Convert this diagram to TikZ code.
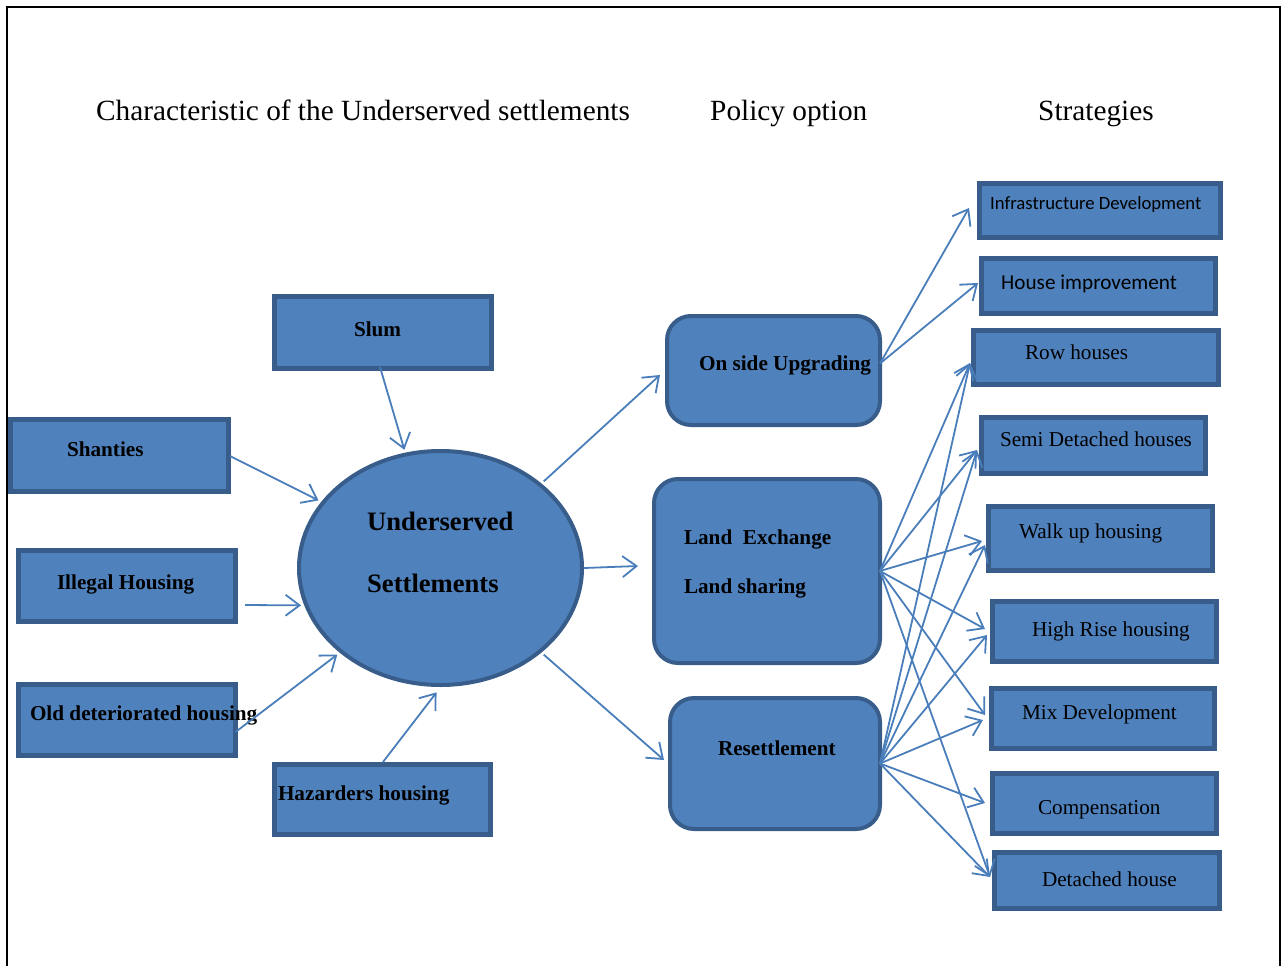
\documentclass[tikz,border=0pt]{standalone}
\usepackage{fontspec}
\setmainfont{Liberation Serif}
\newfontfamily\calib{Carlito}
\usetikzlibrary{arrows.meta,shapes.geometric}
\definecolor{fillb}{HTML}{4F81BD}
\definecolor{edgeb}{HTML}{385D8A}
\definecolor{arrb}{HTML}{4A7EBB}
\begin{document}
\begin{tikzpicture}[x=1pt,y=-1pt,
  sbox/.style={draw=edgeb,fill=fillb,line width=5pt,inner sep=0pt,outer sep=0pt},
  rbox/.style={draw=edgeb,fill=fillb,line width=4pt,rounded corners=24pt,inner sep=0pt,outer sep=0pt},
  ell/.style={ellipse,draw=edgeb,fill=fillb,line width=4pt,inner sep=0pt,outer sep=5pt},
  txt/.style={anchor=base west,inner sep=0pt,outer sep=0pt,font=\fontsize{21.2}{25}\selectfont},
  btxt/.style={txt,font=\fontsize{21.2}{25}\selectfont\bfseries},
  htxt/.style={anchor=base west,inner sep=0pt,font=\fontsize{29.3}{34}\selectfont},
  etxt/.style={anchor=base west,inner sep=0pt,font=\fontsize{26.6}{30}\selectfont\bfseries},
  arr/.style={draw=arrb,line width=1.8pt,-{Straight Barb[length=14pt,width=21pt,line width=1.8pt]}}]
\useasboundingbox (0,0) rectangle (1282,966);
\draw[line width=2pt] (7,966) -- (7,7) -- (1280,7) -- (1280,966);

% headers
\node[htxt] (h1) at (96,120.5) {Characteristic of the Underserved settlements};
\node[htxt] (h2) at (710,120.5) {Policy option};
\node[htxt] (h3) at (1038,120.5) {Strategies};

% left boxes
\node[sbox,minimum width=217pt,minimum height=72pt] (slum) at (383,332.5) {};
\node[sbox,minimum width=218pt,minimum height=72pt] (shan) at (119.5,455.5) {};
\node[sbox,minimum width=217pt,minimum height=71pt] (ill) at (127,586) {};
\node[sbox,minimum width=217pt,minimum height=71pt] (old) at (127,720) {};
\node[sbox,minimum width=216pt,minimum height=70pt] (haz) at (382.5,799.5) {};
\node[btxt] (tslum) at (354,336) {Slum};
\node[btxt] (tshan) at (67,456) {Shanties};
\node[btxt] (till) at (57,589) {Illegal Housing};
\node[btxt] (told) at (30,720) {Old deteriorated housing};
\node[btxt] (thaz) at (278,800) {Hazarders housing};

% ellipse
\node[ell,minimum width=283pt,minimum height=234pt] (ell) at (440.5,568) {};
\node[etxt] (te1) at (367,530) {Underserved};
\node[etxt] (te2) at (367,592) {Settlements};

% policy boxes
\node[rbox,minimum width=213pt,minimum height=109pt] (up) at (773.5,370.5) {};
\node[rbox,minimum width=226pt,minimum height=184pt] (le) at (767,571) {};
\node[rbox,minimum width=210pt,minimum height=131pt] (res) at (775,763.5) {};
\node[btxt] (tup) at (699,370) {On side Upgrading};
\node[btxt] (tle1) at (684,544) {Land\ \ Exchange};
\node[btxt] (tle2) at (684,593) {Land sharing};
\node[btxt] (tres) at (718,755) {Resettlement};

% strategies
\node[sbox,minimum width=241pt,minimum height=54pt] (infra) at (1100,210.5) {};
\node[sbox,minimum width=234pt,minimum height=55pt] (house) at (1098.5,286) {};
\node[sbox,minimum width=245pt,minimum height=54pt] (row) at (1096,357.5) {};
\node[sbox,minimum width=224pt,minimum height=56pt] (semi) at (1093.5,445.5) {};
\node[sbox,minimum width=224pt,minimum height=64pt] (walk) at (1100.5,538.5) {};
\node[sbox,minimum width=224pt,minimum height=60pt] (high) at (1104.5,631.5) {};
\node[sbox,minimum width=223pt,minimum height=60pt] (mix) at (1103,718.5) {};
\node[sbox,minimum width=224pt,minimum height=60pt] (comp) at (1104.5,803.5) {};
\node[sbox,minimum width=225pt,minimum height=56pt] (det) at (1107,880.5) {};
\node[anchor=base west,inner sep=0pt,font=\fontsize{18.7}{22}\selectfont\calib] (tinfra) at (990,209) {Infrastructure Development};
\node[anchor=base west,inner sep=0pt,font=\fontsize{21.2}{25}\selectfont\calib] (thouse) at (1001,289) {House improvement};
\node[txt] (trow) at (1025,359) {Row houses};
\node[txt] (tsemi) at (1000,446) {Semi Detached houses};
\node[txt] (twalk) at (1019,538) {Walk up housing};
\node[txt] (thigh) at (1032,636) {High Rise housing};
\node[txt] (tmix) at (1022,719) {Mix Development};
\node[txt] (tcomp) at (1038,814) {Compensation};
\node[txt] (tdet) at (1042,886) {Detached house};

% arrows into ellipse
\draw[arr] ([shift={(-3,-1.5)}]slum.south) -- (ell.107);
\draw[arr] ([shift={(1.5,0.5)}]shan.east) -- (ell.151);
\draw[arr] ([shift={(9.5,19)}]ill.east) -- (ell.195);
\draw[arr] ([shift={(0,12)}]old.east) -- (ell.220);
\draw[arr,shorten >=3pt] ([shift={(0.5,-2.5)}]haz.north) -- (ell.269);

% ellipse to policy
\draw[arr] (ell.40) -- ([shift={(-7,4.5)}]up.west);
\draw[arr] ([shift={(-3,0)}]ell.0) -- ([shift={(-16,-5)}]le.west);
\draw[arr] (ell.-40) -- ([shift={(-6,-3.5)}]res.west);

% policy to strategies
\draw[arr] ([shift={(0,-7)}]up.east) -- ([shift={(-10.5,-2.5)}]infra.west);
\draw[arr] ([shift={(0,-7)}]up.east) -- ([shift={(-3.5,-3)}]house.west);

\draw[arr] (le.east) -- ([shift={(-3.5,5.5)}]row.west);
\draw[arr] (le.east) -- ([shift={(-4.5,4.5)}]semi.west);
\draw[arr] (le.east) -- ([shift={(-6.5,2.5)}]walk.west);
\draw[arr] (le.east) -- ([shift={(-7.5,-2.5)}]high.west);
\draw[arr] (le.east) -- ([shift={(-6.5,-3.5)}]mix.west);
\draw[arr] (le.east) -- ([shift={(-4.5,-3.5)}]det.west);

\draw[arr] (res.east) -- ([shift={(-3.5,5.5)}]row.west);
\draw[arr] (res.east) -- ([shift={(-4.5,4.5)}]semi.west);
\draw[arr] (res.east) -- ([shift={(-3.5,6.5)}]walk.west);
\draw[arr] (res.east) -- ([shift={(-5.5,3.5)}]high.west);
\draw[arr] (res.east) -- ([shift={(-8.5,1.5)}]mix.west);
\draw[arr] (res.east) -- ([shift={(-7.5,-0.5)}]comp.west);
\draw[arr] (res.east) -- ([shift={(-4.5,-3.5)}]det.west);
\end{tikzpicture}
\end{document}
